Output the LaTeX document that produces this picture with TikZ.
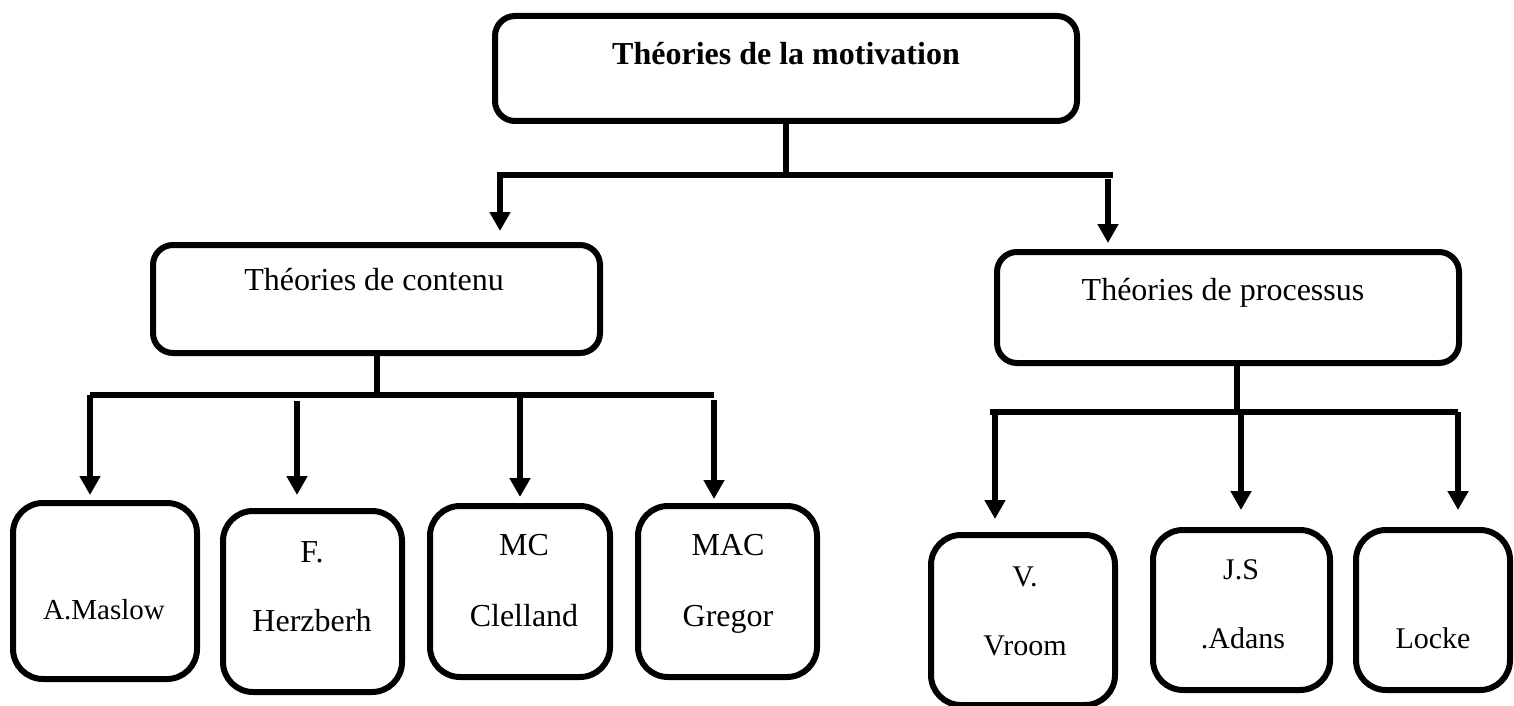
\documentclass[tikz,border=0pt]{standalone}
\usepackage{fontspec}
\setmainfont{Liberation Serif}
\usetikzlibrary{arrows.meta}

\tikzset{
  box/.style={draw=black, line width=3pt, rounded corners=10pt, inner sep=0pt, fill=white},
  smallbox/.style={box, rounded corners=15pt},
  lbl/.style={anchor=base, inner sep=0pt, font=\fontsize{16}{19}\selectfont},
  lblsm/.style={lbl, font=\fontsize{15}{18}\selectfont},
  link/.style={draw=black, line width=3pt},
  arr/.style={draw=black, line width=2.8pt, -{Triangle[width=10pt,length=9.5pt]}}
}

\begin{document}
\begin{tikzpicture}[x=0.5pt, y=-0.5pt]
  \useasboundingbox (0,0) rectangle (1514,706);

  % boxes
  \node[box, minimum width=291pt, minimum height=52.5pt] (top) at (786,68.5) {};
  \node[box, minimum width=223.5pt, minimum height=54pt] (cont) at (376.5,299) {};
  \node[box, minimum width=231pt, minimum height=55.5pt] (proc) at (1228,307.5) {};

  \node[smallbox, minimum width=92pt, minimum height=88pt] (mas) at (105,591) {};
  \node[smallbox, minimum width=89.5pt, minimum height=90.5pt] (her) at (312.5,601.5) {};
  \node[smallbox, minimum width=90pt, minimum height=85.5pt] (cle) at (520,591.5) {};
  \node[smallbox, minimum width=89.5pt, minimum height=85.5pt] (gre) at (727.5,591.5) {};
  \node[smallbox, minimum width=92pt, minimum height=85pt] (vro) at (1023,620) {};
  \node[smallbox, minimum width=88.5pt, minimum height=80pt] (js) at (1241.5,610) {};
  \node[smallbox, minimum width=77pt, minimum height=80pt] (loc) at (1433,610) {};

  % labels
  \node[lbl, font=\fontsize{16}{19}\selectfont\bfseries] (topT) at (786,65) {Théories de la motivation};
  \node[lbl] (contT) at (374,290) {Théories de contenu};
  \node[lbl] (procT) at (1223,300) {Théories de processus};

  \node[lbl, font=\fontsize{14.5}{17}\selectfont] (masT) at (104,619) {A.Maslow};
  \node[lbl] (herT1) at (312,562) {F.};
  \node[lbl] (herT2) at (312,631) {Herzberh};
  \node[lbl] (cleT1) at (524,555) {MC};
  \node[lbl] (cleT2) at (524,626) {Clelland};
  \node[lbl] (greT1) at (728,555) {MAC};
  \node[lbl] (greT2) at (728,626) {Gregor};
  \node[lblsm] (vroT1) at (1025,586) {V.};
  \node[lblsm] (vroT2) at (1025,655) {Vroom};
  \node[lblsm] (jsT1) at (1241,579) {J.S};
  \node[lblsm] (jsT2) at (1243,648) {.Adans};
  \node[lblsm] (locT) at (1433,648) {Locke};

  % first level
  \coordinate (t1) at (497,175);
  \coordinate (t2) at (1113,175);
  \coordinate (a1) at (500,178);
  \coordinate (a2) at (1108,179);
  \draw[link] (top.south) -- (top.south |- t1);
  \draw[link] (t1) -- (t2);
  \draw[arr, shorten >=5.5pt] (a1) -- (a1 |- cont.north);
  \draw[arr, shorten >=3pt] (a2) -- (a2 |- proc.north);

  % content theories
  \coordinate (l1) at (90,395);
  \coordinate (l4) at (714,395);
  \coordinate (l2) at (297,401);
  \coordinate (l3) at (520,398);
  \coordinate (l4d) at (714,400);
  \draw[link] (cont.south) -- (cont.south |- l1);
  \draw[link] (l1) -- (l4);
  \draw[arr, shorten >=2.5pt] (l1) -- (l1 |- mas.north);
  \draw[arr, shorten >=6.5pt] (l2) -- (l2 |- her.north);
  \draw[arr, shorten >=3pt] (l3) -- (l3 |- cle.north);
  \draw[arr, shorten >=2pt] (l4d) -- (l4d |- gre.north);

  % process theories
  \coordinate (r1) at (990,412);
  \coordinate (r2) at (1237,412);
  \coordinate (r3) at (1458,412);
  \coordinate (r1d) at (995,412);
  \coordinate (r2d) at (1241,412);
  \draw[link] (proc.south -| r2) -- (r2);
  \draw[link] (r1) -- (r3);
  \draw[arr, shorten >=6.5pt] (r1d) -- (r1d |- vro.north);
  \draw[arr, shorten >=8.5pt] (r2d) -- (r2d |- js.north);
  \draw[arr, shorten >=8.5pt] (r3) -- (r3 |- loc.north);
\end{tikzpicture}
\end{document}
